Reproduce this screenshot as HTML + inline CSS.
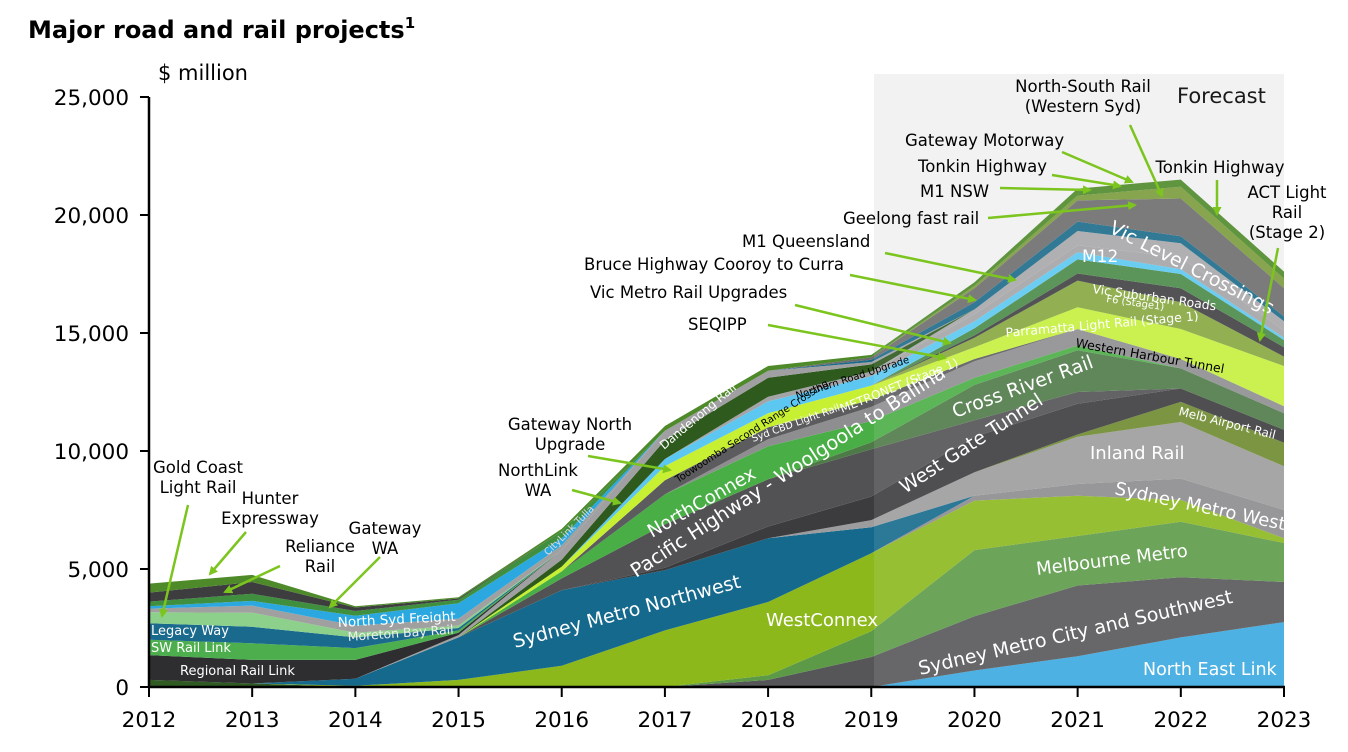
<!DOCTYPE html>
<html><head><meta charset="utf-8"><style>
body{margin:0;background:#fff;width:1348px;height:752px;overflow:hidden}
svg{display:block}
text{font-family:"DejaVu Sans","Liberation Sans",sans-serif}
</style></head><body>
<svg id="chart" width="1348" height="752" viewBox="0 0 1348 752" xmlns="http://www.w3.org/2000/svg">
<defs><marker id="arr" markerWidth="9" markerHeight="9" refX="7" refY="4.5" orient="auto" markerUnits="userSpaceOnUse"><path d="M0,0 L9,4.5 L0,9 z" fill="#7cc41e"/></marker></defs>
<rect x="874" y="74" width="410" height="613" fill="#f1f1f1"/>
<text x="28" y="38" font-size="24" font-weight="bold" fill="#000">Major road and rail projects<tspan font-size="15" dy="-10">1</tspan></text>
<text x="158" y="80" font-size="21">$ million</text>
<text x="1177" y="103" font-size="21">Forecast</text>
<g id="areas"></g>
<rect x="874" y="74" width="410" height="613" fill="#fff" opacity="0.1"/>
<g id="axes"></g>
<g id="inlabels" fill="#fff" font-size="13"></g>
<g id="annotations" font-size="16.5" fill="#000"></g>
</svg>
<script>
const years=[2012,2013,2014,2015,2016,2017,2018,2019,2020,2021,2022,2023];
const yTicks=[0,5000,10000,15000,20000,25000];
const yTickLabels=["0","5,000","10,000","15,000","20,000","25,000"];
// series values ($ million), bottom to top
const northEastLink=[0,0,0,0,0,0,0,0,700,1300,2100,2750];
const sydMetroCitySW=[0,0,0,0,0,0,300,1270,2300,3000,2550,1700];
const melbourneMetro=[0,0,0,0,0,0,200,1100,2800,2100,2350,1650];
const westConnex=[0,0,50,300,900,2400,3100,3300,2100,1700,930,200];
const sydMetroWest=[0,0,0,0,0,0,0,0,200,500,900,1200];
const sydMetroNW=[0,0,300,1800,3200,2550,2700,1100,0,0,0,0];
const inlandRail=[0,0,0,0,0,0,0,300,1000,2000,2400,1850];
const melbAirportRail=[0,0,0,0,0,0,0,0,0,100,850,1000];
const westGateTunnel=[0,0,0,0,0,100,500,1000,1500,1300,570,550];
const pacificHwy=[0,0,0,0,500,1840,2000,2000,700,500,0,0];
const crossRiverRail=[0,0,0,0,0,0,0,300,1500,1770,850,700];
const northConnex=[0,0,0,0,300,1270,1400,900,300,200,0,0];
const metronet=[0,0,0,0,0,0,300,600,700,700,400,300];
const sydCbdLightRail=[0,0,0,0,0,600,500,300,100,0,0,0];
const westernHarbour=[0,0,0,0,0,0,0,200,500,920,1270,1700];
const toowoomba=[0,0,0,0,200,600,600,400,0,0,0,0];
const parramattaLR=[0,0,0,0,0,0,0,0,400,1130,1130,400];
const f6Stage1=[0,0,0,0,0,0,0,0,100,300,600,400];
const vicSuburbanRoads=[0,0,0,0,0,0,0,0,300,600,600,300];
const northernRoad=[0,0,0,0,0,300,500,400,300,300,200,100];
const seqippVicMetro=[0,0,0,0,0,0,200,200,300,300,500,300];
const m12=[0,0,0,0,0,0,0,0,200,600,600,400];
const dandenongRail=[0,0,0,0,300,800,800,300,0,0,0,0];
const cityLinkTulla=[0,0,0,100,400,400,300,100,0,0,0,0];
const bruceM1Qld=[0,0,0,0,0,0,0,100,300,400,300,200];
const regionalRailLink=[1050,1000,800,100,0,0,0,0,0,0,0,0];
const swRailLink=[650,700,500,100,0,0,0,0,0,0,0,0];
const legacyWay=[700,700,450,100,0,0,0,0,0,0,0,0];
const goldCoastLR=[470,600,200,100,0,0,0,0,0,0,0,0];
const moretonBay=[150,300,300,300,200,0,0,0,0,0,0,0];
const northSydFreight=[100,200,420,650,300,0,0,0,0,0,0,0];
const relianceGatewayWA=[200,300,200,150,300,0,0,0,0,0,0,0];
const hunterExpressway=[380,500,150,50,0,0,0,0,0,0,0,0];
const vicLevelCrossings=[0,0,0,0,0,0,0,100,600,900,1600,1200];
const geelongM1=[0,0,0,0,0,0,0,0,100,200,500,400];
const topGreen=[380,300,50,50,100,200,200,100,150,300,300,300];
const baseDark=[300,150,0,0,0,0,0,0,0,0,0,0];

const series=[
 ["base-dark",baseDark,"#2f5a22"],
 ["north-east-link",northEastLink,"#3aa9e0"],
 ["sydney-metro-city-southwest",sydMetroCitySW,"#565658"],
 ["melbourne-metro",melbourneMetro,"#5c9a48"],
 ["westconnex",westConnex,"#8cb81c"],
 ["sydney-metro-west",sydMetroWest,"#8c8c8e"],
 ["sydney-metro-northwest",sydMetroNW,"#15698c"],
 ["inland-rail",inlandRail,"#9c9c9e"],
 ["melb-airport-rail",melbAirportRail,"#6e8a2e"],
 ["west-gate-tunnel",westGateTunnel,"#3c3c3e"],
 ["pacific-highway",pacificHwy,"#525254"],
 ["cross-river-rail",crossRiverRail,"#4e7a48"],
 ["northconnex",northConnex,"#4aae46"],
 ["metronet",metronet,"#8e8e90"],
 ["syd-cbd-light-rail",sydCbdLightRail,"#5c5c5e"],
 ["western-harbour-tunnel",westernHarbour,"#c4f03c"],
 ["toowoomba-range",toowoomba,"#c8f032"],
 ["parramatta-light-rail",parramattaLR,"#86a83e"],
 ["f6-stage1",f6Stage1,"#404042"],
 ["vic-suburban-roads",vicSuburbanRoads,"#4a8a48"],
 ["northern-road-upgrade",northernRoad,"#5cc8f2"],
 ["seqipp-vic-metro",seqippVicMetro,"#a4a4a6"],
 ["m12",m12,"#a8a8aa"],
 ["dandenong-rail",dandenongRail,"#2e5a1e"],
 ["citylink-tulla",cityLinkTulla,"#a0a0a2"],
 ["bruce-m1-qld",bruceM1Qld,"#1a6a8a"],
 ["regional-rail-link",regionalRailLink,"#2e2e30"],
 ["sw-rail-link",swRailLink,"#4cae4c"],
 ["legacy-way",legacyWay,"#1a6a8e"],
 ["gold-coast-light-rail",goldCoastLR,"#8cd08c"],
 ["moreton-bay-rail",moretonBay,"#a0a0a0"],
 ["north-syd-freight",northSydFreight,"#2ca8e0"],
 ["reliance-gateway-wa",relianceGatewayWA,"#3f8f3f"],
 ["hunter-expressway",hunterExpressway,"#3d3d3f"],
 ["vic-level-crossings",vicLevelCrossings,"#6c6c6e"],
 ["geelong-m1",geelongM1,"#7a9a3a"],
 ["top-green",topGreen,"#4e8a2a"]
];
const X0=149,X1=1284,Y0=687,Y1=97,VMAX=25000;
function xs(i){return X0+(X1-X0)*i/(years.length-1);}
function ys(v){return Y0-(Y0-Y1)*v/VMAX;}
const NS="http://www.w3.org/2000/svg";
const areas=document.getElementById('areas');
let cum=years.map(()=>0);
series.forEach(s=>{
  const lo=cum.slice(); const hi=cum.map((c,i)=>c+s[1][i]);
  let d="";
  hi.forEach((v,i)=>{d+=(i?"L":"M")+xs(i).toFixed(1)+","+ys(v).toFixed(1);});
  for(let i=lo.length-1;i>=0;i--) d+="L"+xs(i).toFixed(1)+","+ys(lo[i]).toFixed(1);
  const p=document.createElementNS(NS,'path');
  p.setAttribute('d',d+"Z");p.setAttribute('fill',s[2]);
  
  
  areas.appendChild(p);cum=hi;
});
const axes=document.getElementById('axes');
function ln(x1,y1,x2,y2,w,name){const l=document.createElementNS(NS,'line');l.setAttribute('x1',x1);l.setAttribute('y1',y1);l.setAttribute('x2',x2);l.setAttribute('y2',y2);l.setAttribute('stroke','#000');l.setAttribute('stroke-width',w);


axes.appendChild(l);}
ln(X0,Y1,X0,Y0+1,2.5,'y-axis-line');ln(X0-1,Y0,X1+1,Y0,2.5,'x-axis-line');
yTicks.forEach((v,i)=>{ln(X0-9,ys(v),X0,ys(v),2,'y-tick');
 const t=document.createElementNS(NS,'text');t.setAttribute('x',129);t.setAttribute('y',ys(v)+8);t.setAttribute('text-anchor','end');t.setAttribute('font-size','21.5');t.textContent=yTickLabels[i];
 
 
 axes.appendChild(t);});
years.forEach((y,i)=>{ln(xs(i),Y0,xs(i),Y0+10,2,'x-tick');
 const t=document.createElementNS(NS,'text');t.setAttribute('x',xs(i));t.setAttribute('y',727);t.setAttribute('text-anchor','middle');t.setAttribute('font-size','21.5');t.textContent=y;
 
 
 axes.appendChild(t);});
// in-area labels: [text,x,y,rot,size,color]
const inl=[["Regional  Rail  Link",180,675,0,13,"#fff"],["SW Rail  Link",151,652,0,13,"#fff"],["Legacy Way",151,635,0,13,"#fff"],
["North  Syd  Freight",338,627,-3,13.5,"#fff"],["Moreton  Bay  Rail",348,641,-4,12.5,"#eee"],
["Sydney Metro Northwest",515,648,-15,19,"#fff"],["WestConnex",766,626,0,18,"#fff"],["Pacific Highway - Woolgoola to Ballina",636,578,-33,19.5,"#fff"],
["NorthConnex",652,538,-30,18.5,"#fff"],["CityLink Tulla",548,556,-45,10,"#ddd"],["Dandenong  Rail",664,450,-40,12,"#fff"],
["Toowoomba  Second Range Crossing",678,483,-33,10,"#000"],["Northern Road Upgrade",797,399,-18,10,"#000"],["Syd CBD Light Rail",753,442,-20,10,"#fff"],
["METRONET  (Stage  1)",842,413,-22,12,"#fff"],["West Gate Tunnel",905,494,-33,19,"#fff"],["Cross River Rail",955,418,-20,19,"#fff"],
["Inland Rail",1090,459,0,18,"#fff"],["Sydney  Metro  West",1114,494,12,18,"#fff"],["Melbourne Metro",1037,575,-7,18,"#fff"],
["Sydney Metro City and Southwest",920,675,-13,19,"#fff"],["North East Link",1143,675,0,17.5,"#fff"],["Melb  Airport  Rail",1178,415,14,12,"#fff"],
["Western  Harbour  Tunnel",1075,347,10,12.5,"#000"],["Parramatta  Light  Rail  (Stage  1)",1006,337,-5,12.5,"#fff"],["F6 (Stage1)",1106,302,8,10,"#fff"],
["Vic  Suburban  Roads",1092,293,8,12.5,"#fff"],["M12",1082,262,0,17,"#fff"],["Vic Level Crossings",1108,232,27,19,"#fff"]];
const ig=document.getElementById('inlabels');
inl.forEach(a=>{const t=document.createElementNS(NS,'text');t.setAttribute('x',a[1]);t.setAttribute('y',a[2]);t.setAttribute('font-size',a[4]);t.setAttribute('fill',a[5]);
 t.setAttribute('transform','rotate('+a[3]+' '+a[1]+' '+a[2]+')');t.textContent=a[0];
 
 
 ig.appendChild(t);});
// annotations: [lines, x, y, anchor, arrow x1,y1,x2,y2]
const ann=[[["Gold Coast","Light Rail"],198,473,"middle",188,505,162,616],[["Hunter","Expressway"],270,504,"middle",246,532,210,574],
[["Reliance","Rail"],320,552,"middle",280,566,225,592],[["Gateway","WA"],385,534,"middle",380,557,330,607],
[["Gateway North","Upgrade"],570,430,"middle",588,456,670,470],[["NorthLink","WA"],538,476,"middle",572,490,620,503],
[["SEQIPP"],688,330,"start",768,325,945,358],[["Vic Metro Rail Upgrades"],590,298,"start",795,305,950,343],
[["Bruce Highway Cooroy to Curra"],584,270,"start",850,275,975,300],[["M1 Queensland"],742,247,"start",885,253,1015,280],
[["Geelong fast rail"],843,224,"start",988,218,1135,205],[["M1 NSW"],920,197,"start",1000,188,1090,190],
[["Tonkin Highway"],918,172,"start",1052,175,1120,186],[["Gateway Motorway"],905,146,"start",1062,152,1132,182],
[["North-South Rail","(Western Syd)"],1083,92,"middle",1130,125,1162,196],[["Tonkin Highway"],1220,173,"middle",1217,180,1217,214],
[["ACT Light","Rail","(Stage 2)"],1287,198,"middle",1278,248,1260,340]];
const ag=document.getElementById('annotations');
ann.forEach(a=>{a[0].forEach((s,k)=>{const t=document.createElementNS(NS,'text');t.setAttribute('x',a[1]);t.setAttribute('y',a[2]+k*20);t.setAttribute('text-anchor',a[3]);t.textContent=s;
 
 
 ag.appendChild(t);});
 const l=document.createElementNS(NS,'line');l.setAttribute('x1',a[4]);l.setAttribute('y1',a[5]);l.setAttribute('x2',a[6]);l.setAttribute('y2',a[7]);
 l.setAttribute('stroke','#7cc41e');l.setAttribute('stroke-width','2.5');l.setAttribute('marker-end','url(#arr)');
 
 
 ag.appendChild(l);});
</script>
</body></html>
